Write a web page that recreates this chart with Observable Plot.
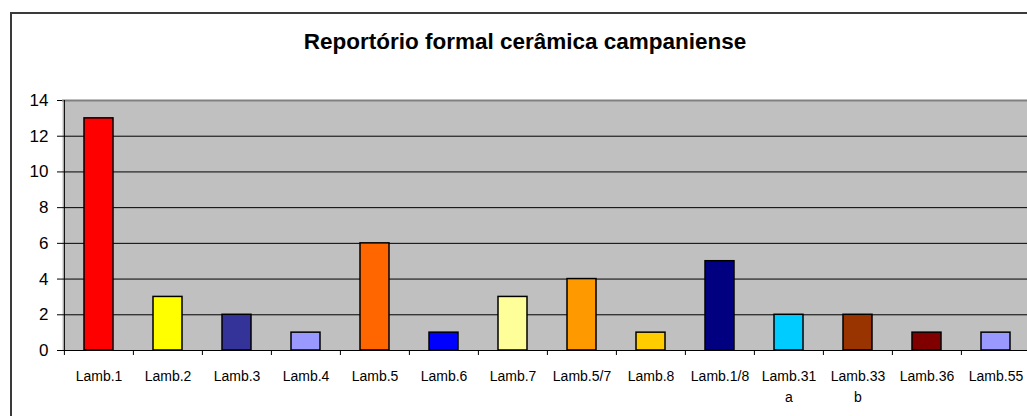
<!DOCTYPE html>
<html>
<head>
<meta charset="utf-8">
<script src="https://cdn.jsdelivr.net/npm/d3@7"></script>
<script src="https://cdn.jsdelivr.net/npm/@observablehq/plot@0.6"></script>
<style>
  html, body { margin: 0; padding: 0; background: #fff; }
  #wrap { position: relative; width: 1027px; height: 416px; overflow: hidden; font-family: "Liberation Sans", Arial, sans-serif; }
  #border { position: absolute; left: 10px; top: 12px; width: 1100px; height: 600px; border: 2px solid #3a3a3a; box-sizing: border-box; }
  #title { position: absolute; left: 0; top: 29px; width: 1050px; text-align: center; font-weight: bold; font-size: 22.5px; color: #000; }
  #chart { position: absolute; left: 0; top: 0; }
</style>
</head>
<body>
<div id="wrap">
  <div id="border"></div>
  <div id="chart"></div>
  <div id="title">Reportório formal cerâmica campaniense</div>
</div>
<script>
const categories = ["Lamb.1","Lamb.2","Lamb.3","Lamb.4","Lamb.5","Lamb.6","Lamb.7","Lamb.5/7","Lamb.8","Lamb.1/8","Lamb.31a","Lamb.33b","Lamb.36","Lamb.55"];
const tickLabels = ["Lamb.1","Lamb.2","Lamb.3","Lamb.4","Lamb.5","Lamb.6","Lamb.7","Lamb.5/7","Lamb.8","Lamb.1/8","Lamb.31\na","Lamb.33\nb","Lamb.36","Lamb.55"];
const values = [13,3,2,1,6,1,3,4,1,5,2,2,1,1];
const colors = ["#FF0000","#FFFF00","#333399","#9999FF","#FF6600","#0000FF","#FFFF99","#FF9900","#FFCC00","#000080","#00CCFF","#993300","#800000","#9999FF"];
const yTicks = [0,2,4,6,8,10,12,14];
const gridValues = [2,4,6,8,10,12];

const data = categories.map((c, i) => ({cat: c, value: values[i], color: colors[i]}));
const labelOf = new Map(categories.map((c, i) => [c, tickLabels[i]]));

const W = 1027, H = 416, mL = 62, mR = -4;
const step = (W - mL - mR) / categories.length;

const chart = Plot.plot({
  width: W,
  height: H,
  marginLeft: mL,
  marginRight: mR,
  marginTop: 100,
  marginBottom: 66,
  style: {fontFamily: "'Liberation Sans', Arial, sans-serif", color: "#000", background: "transparent", overflow: "visible"},
  x: {domain: categories, paddingInner: 0.58, paddingOuter: 0.29, label: null},
  y: {domain: [0, 14], label: null},
  marks: [
    Plot.frame({fill: "#C0C0C0"}),
    Plot.ruleY(gridValues, {stroke: "#000", strokeWidth: 1}),
    Plot.ruleY([14], {stroke: "#808080", strokeWidth: 2}),
    Plot.ruleY([0], {stroke: "#000", strokeWidth: 1}),
    Plot.ruleX([categories[0]], {y1: 0, y2: 14, dx: -step / 2, stroke: "#000", strokeWidth: 1}),
    Plot.barY(data, {x: "cat", y: "value", fill: "color", stroke: "#000", strokeWidth: 1.5}),
    Plot.ruleX(categories, {y1: 0, y2: 0, insetBottom: -5, dx: -step / 2, stroke: "#000", strokeWidth: 1}),
    Plot.axisX({tickSize: 0, tickPadding: 16, fontSize: 14, lineHeight: 1.5, tickFormat: d => labelOf.get(d), label: null}),
    Plot.axisY({ticks: yTicks, tickSize: 5, tickPadding: 9, fontSize: 17, label: null, stroke: "#000"})
  ]
});
document.getElementById("chart").appendChild(chart);
</script>
</body>
</html>
